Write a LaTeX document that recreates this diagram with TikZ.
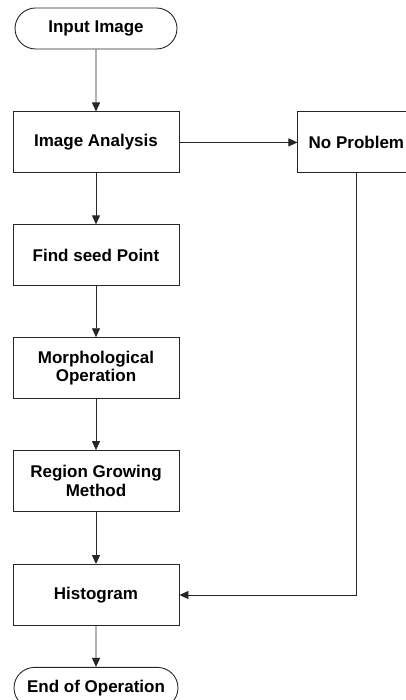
\documentclass[tikz,border=0pt]{standalone}
\usepackage{fontspec}
\setmainfont{Liberation Sans}
\usetikzlibrary{positioning,arrows.meta,shapes.misc}
\tikzset{
  >={Triangle[length=9pt,width=8pt]},
  boxfont/.style={font=\bfseries\fontsize{17}{18.5}\selectfont},
  procbox/.style={draw=black!85,boxfont,align=center,minimum width=166pt,
    minimum height=61pt,inner sep=2pt,line width=0.9pt},
  termbox/.style={draw=black!85,boxfont,rounded rectangle,minimum width=166pt,
    minimum height=41pt,inner sep=2pt,line width=0.9pt},
  flow/.style={->,line width=0.9pt,black!85},
}
\begin{document}
\begin{tikzpicture}[x=1pt,y=1pt,node distance=51pt]
  \useasboundingbox (0,0) rectangle (406,-700);
  \node[termbox] (inp) at (96,-28.5) {Input Image};
  \node[procbox,below=62pt of inp] (ana) {Image Analysis};
  \node[procbox,right=118pt of ana,minimum width=117pt] (nop) {No Problem};
  \node[procbox,below=of ana] (seed) {Find seed Point};
  \node[procbox,below=of seed] (morph) {Morphological\\Operation};
  \node[procbox,below=of morph] (reg) {Region Growing\\Method};
  \node[procbox,below=52pt of reg] (hist) {Histogram};
  \node[termbox,below=41pt of hist,minimum width=168pt] (eop) {End of Operation};
  \draw[flow] (inp) -- (ana);
  \draw[flow] (ana) -- (nop);
  \draw[flow] (ana) -- (seed);
  \draw[flow] (seed) -- (morph);
  \draw[flow] (morph) -- (reg);
  \draw[flow] (reg) -- (hist);
  \draw[flow] (hist) -- (eop);
  \draw[flow] (nop.south) |- (hist.east);
\end{tikzpicture}
\end{document}
